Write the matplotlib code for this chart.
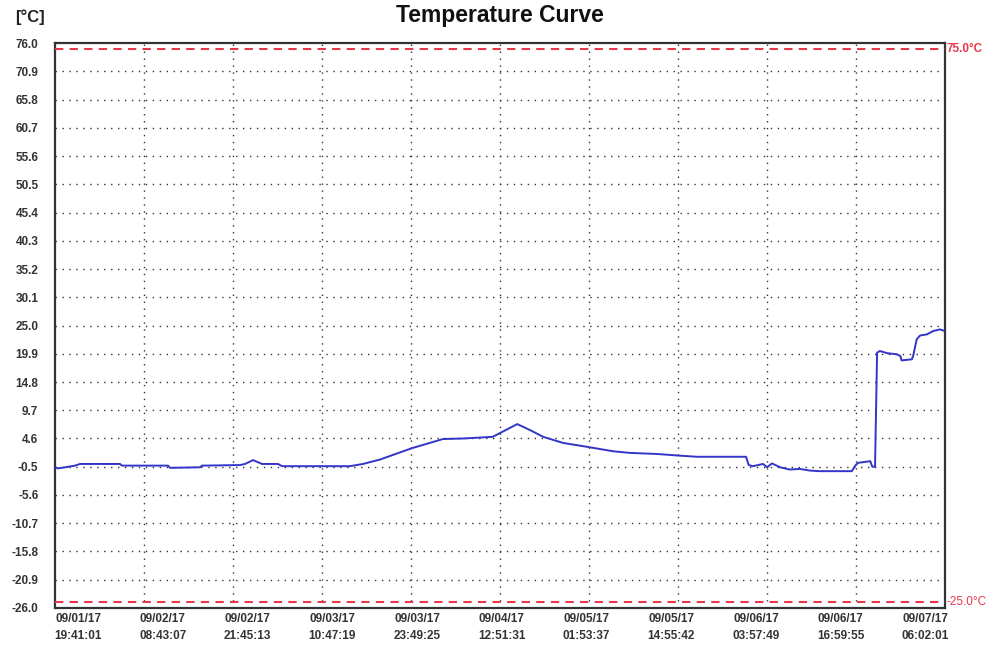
import matplotlib.pyplot as plt
import numpy as np

plt.rcParams['font.family'] = ['Liberation Sans', 'DejaVu Sans']

# hours since 09/01/17 19:41:01
hours = [0.0, 0.44, 1.46, 2.93, 3.66, 9.52, 9.81, 16.55, 16.84, 21.24, 21.53,
         27.09, 27.83, 29.0, 30.32, 32.66, 33.25, 43.2, 45.1, 47.6, 50.1, 52.4,
         54.9, 56.8, 59.8, 64.1, 65.2, 67.7, 69.6, 71.5, 74.4, 77.9, 81.7, 84.2,
         88.2, 91.5, 94.0, 101.2, 101.6, 102.2, 103.7, 104.3, 105.0, 106.2,
         107.6, 109.1, 110.6, 112.0, 116.7, 117.2, 117.6, 119.4, 119.7, 120.1,
         120.4, 120.8, 121.9, 123.3, 123.8, 124.0, 125.5, 125.7, 126.2, 126.7,
         127.7, 128.6, 129.6, 130.35]
temps = [-0.6, -0.8, -0.6, -0.3, 0.0, 0.0, -0.3, -0.3, -0.7, -0.6, -0.3,
         -0.2, 0.0, 0.7, 0.0, 0.0, -0.4, -0.4, 0.0, 0.8, 1.9, 2.9,
         3.8, 4.5, 4.6, 4.9, 5.6, 7.2, 6.1, 4.9, 3.8, 3.1, 2.3, 2.0,
         1.8, 1.5, 1.3, 1.3, -0.2, -0.4, 0.0, -0.6, 0.1, -0.6,
         -1.0, -0.9, -1.2, -1.3, -1.3, -0.3, 0.2, 0.5, -0.5, -0.5,
         20.1, 20.4, 20.0, 19.8, 19.5, 18.7, 18.9, 19.6, 22.5, 23.2,
         23.4, 24.0, 24.3, 24.0]

y_ticks = [76.0, 70.9, 65.8, 60.7, 55.6, 50.5, 45.4, 40.3, 35.2, 30.1, 25.0,
           19.9, 14.8, 9.7, 4.6, -0.5, -5.6, -10.7, -15.8, -20.9, -26.0]
x_labels = ['09/01/17\n19:41:01', '09/02/17\n08:43:07', '09/02/17\n21:45:13',
            '09/03/17\n10:47:19', '09/03/17\n23:49:25', '09/04/17\n12:51:31',
            '09/05/17\n01:53:37', '09/05/17\n14:55:42', '09/06/17\n03:57:49',
            '09/06/17\n16:59:55', '09/07/17\n06:02:01']
step_h = 13 + 2 / 60 + 6 / 3600
high_limit = 75.0
low_limit = -25.0

grid_x = np.arange(len(x_labels)) * step_h
span = grid_x[-1]

fig = plt.figure(figsize=(9.88, 6.53), dpi=100)
ax = fig.add_axes([0.0557, 0.069, 0.9008, 0.865])

ax.plot(hours, temps, color='#3434c8', lw=1.4, zorder=3)
ax.axhline(high_limit, color='#e8364a', lw=1.5, ls=(0, (4, 3)), zorder=4)
ax.axhline(low_limit, color='#e8364a', lw=1.5, ls=(0, (4, 3)), zorder=4)

ax.set_xlim(0, span)
ax.set_ylim(-26.0, 76.0)

# grid
for gy in y_ticks[1:-1]:
    ax.axhline(gy, color='#333333', lw=1.0, ls=(0, (1, 4)), zorder=1)
for gx in grid_x[1:-1]:
    ax.axvline(gx, color='#333333', lw=1.0, ls=(0, (1, 4)), zorder=1)

ax.set_yticks(y_ticks)
ax.set_yticklabels(['%.1f' % v for v in y_ticks])
label_pos = 0.026 * span + np.arange(len(x_labels)) * 0.0952 * span
ax.set_xticks(label_pos)
ax.set_xticklabels(x_labels, linespacing=1.5)
ax.tick_params(axis='both', length=0, labelsize=8.5, colors='#333333')
ax.tick_params(axis='y', pad=12)
ax.tick_params(axis='x', pad=4)
for lab in ax.get_xticklabels() + ax.get_yticklabels():
    lab.set_fontweight('bold')

for s in ax.spines.values():
    s.set_color('#333333')
    s.set_linewidth(1.6)

ax.text(1.002, high_limit, '75.0\u00b0C', transform=ax.get_yaxis_transform(),
        color='#e8364a', fontsize=8.5, fontweight='bold', va='center', ha='left')
ax.text(1.002, low_limit, '-25.0\u00b0C', transform=ax.get_yaxis_transform(),
        color='#e8364a', fontsize=8.5, va='center', ha='left')

fig.text(0.506, 0.977, 'Temperature Curve', fontsize=16.5, fontweight='bold',
         va='center', ha='center', color='#111111')
fig.text(0.015, 0.974, '[\u00b0C]', fontsize=12, fontweight='bold',
         va='center', ha='left', color='#222222')

plt.savefig('out.png', dpi=100)
